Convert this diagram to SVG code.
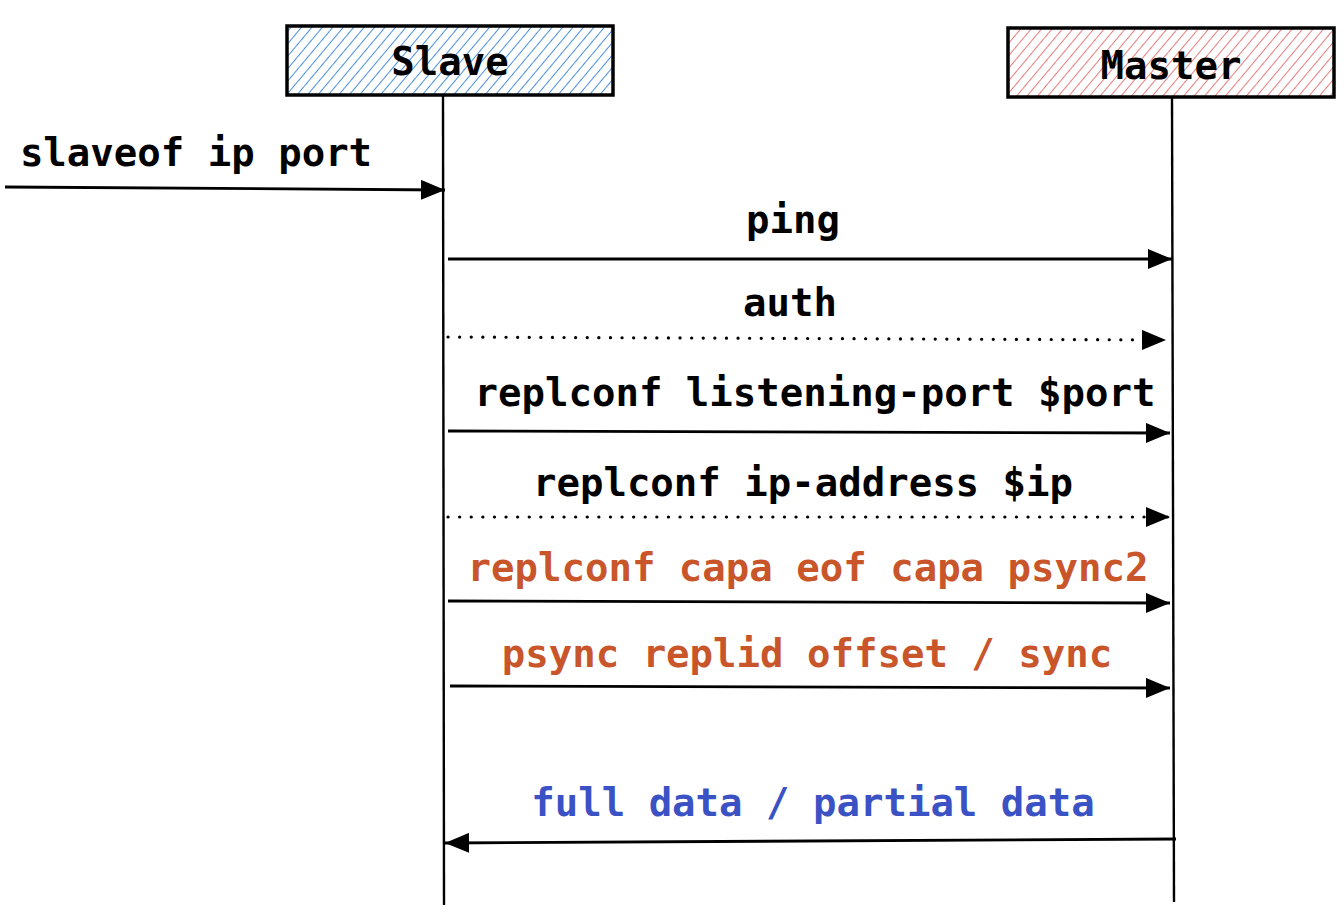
<svg xmlns="http://www.w3.org/2000/svg" width="1344" height="914" viewBox="0 0 1344 914">
<defs>
<pattern id="hatchBlue" patternUnits="userSpaceOnUse" width="8" height="8" patternTransform="rotate(40)">
<rect width="8" height="8" fill="#ffffff"/>
<line x1="0" y1="0" x2="0" y2="8" stroke="#4a90e2" stroke-width="2"/>
</pattern>
<pattern id="hatchRed" patternUnits="userSpaceOnUse" width="8" height="8" patternTransform="rotate(40)">
<rect width="8" height="8" fill="#ffffff"/>
<line x1="0" y1="0" x2="0" y2="8" stroke="#eb7c7c" stroke-width="2"/>
</pattern>
<marker id="arr" viewBox="0 0 24 20" refX="24" refY="10" markerWidth="24" markerHeight="20" markerUnits="userSpaceOnUse" orient="auto">
<path d="M0,0 L24,10 L0,20 Z" fill="#000"/>
</marker>
<style>
.t{font-family:"DejaVu Sans Mono","Liberation Mono",monospace;font-weight:bold;font-size:39px;fill:#000;text-anchor:middle}
.o{fill:#c9552a}
.b{fill:#3b52c4}
.box{stroke:#000;stroke-width:3.5}
.life{stroke:#000;stroke-width:2.4;fill:none}
.msg{stroke:#000;stroke-width:2.8;fill:none;marker-end:url(#arr)}
.dot{stroke:#000;stroke-width:3.2;fill:none;stroke-dasharray:0.1 11.5;stroke-linecap:round;marker-end:url(#arr)}
</style>
</defs>
<g id="slave">
<rect class="box" x="287" y="26" width="326" height="69" fill="url(#hatchBlue)"/>
<text class="t" x="450" y="75">Slave</text>
</g>
<g id="master">
<rect class="box" x="1008" y="28" width="326" height="69" fill="url(#hatchRed)"/>
<text class="t" x="1171" y="79">Master</text>
</g>
<g id="lifelines">
<line class="life" x1="443" y1="95" x2="444" y2="905"/>
<line class="life" x1="1172" y1="97" x2="1174" y2="902"/>
</g>
<g id="connectors">
<path class="msg" d="M5,187 L445,190"/>
<path class="msg" d="M448,259 L1172,259"/>
<path class="dot" d="M448,337 L1166,340"/>
<path class="msg" d="M448,431 L1170,433"/>
<path class="dot" d="M448,517 L1170,517"/>
<path class="msg" d="M448,601 L1170,603"/>
<path class="msg" d="M450,686 L1170,688"/>
<path class="msg" d="M1176,839 L445,843"/>
</g>
<g id="labels">
<text class="t" x="196" y="166">slaveof ip port</text>
<text class="t" x="793" y="233">ping</text>
<text class="t" x="790" y="316">auth</text>
<text class="t" x="815" y="406">replconf listening-port $port</text>
<text class="t" x="803" y="496">replconf ip-address $ip</text>
<text class="t o" x="808" y="581">replconf capa eof capa psync2</text>
<text class="t o" x="807" y="667">psync replid offset / sync</text>
<text class="t b" x="813" y="816">full data / partial data</text>
</g>
</svg>
